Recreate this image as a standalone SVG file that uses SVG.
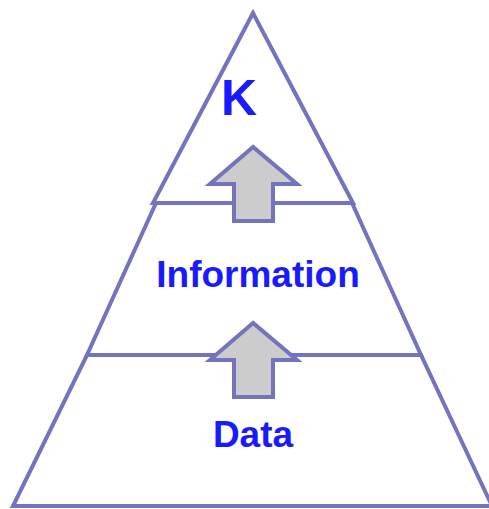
<svg xmlns="http://www.w3.org/2000/svg" width="489" height="509" viewBox="0 0 489 509">
  <style>
    .edge { fill: none; stroke: #7373be; stroke-width: 4; stroke-linejoin: miter; }
    .arrow { fill: #cccccc; stroke: #7373be; stroke-width: 4; stroke-linejoin: miter; }
    .lbl { font-family: "Liberation Sans", Arial, sans-serif; font-weight: bold; fill: #1a1aff; text-anchor: middle; }
  </style>
  <rect width="489" height="509" fill="#ffffff"/>
  <!-- pyramid built from three stacked tiers -->
  <g id="pyramid">
    <polygon class="edge" points="87,355 421,355 492,506 13,506"/>
    <polygon class="edge" points="156,203 352,203 421,355 87,355"/>
    <polygon class="edge" points="253,13 153,203 353,203"/>
  </g>
  <g id="knowledge">
    <text class="lbl" x="239" y="115" font-size="50">K</text>
  </g>
  <g id="information">
    <text class="lbl" x="258" y="287" font-size="37">Information</text>
  </g>
  <g id="data">
    <text class="lbl" x="253" y="447" font-size="37">Data</text>
  </g>
  <!-- upward arrows between tiers -->
  <g id="connectors">
    <polygon class="arrow" points="253,147 210,184 234,184 234,221 273,221 273,184 297,184"/>
    <polygon class="arrow" points="253,323 210,360 234,360 234,397 273,397 273,360 297,360"/>
  </g>
</svg>
